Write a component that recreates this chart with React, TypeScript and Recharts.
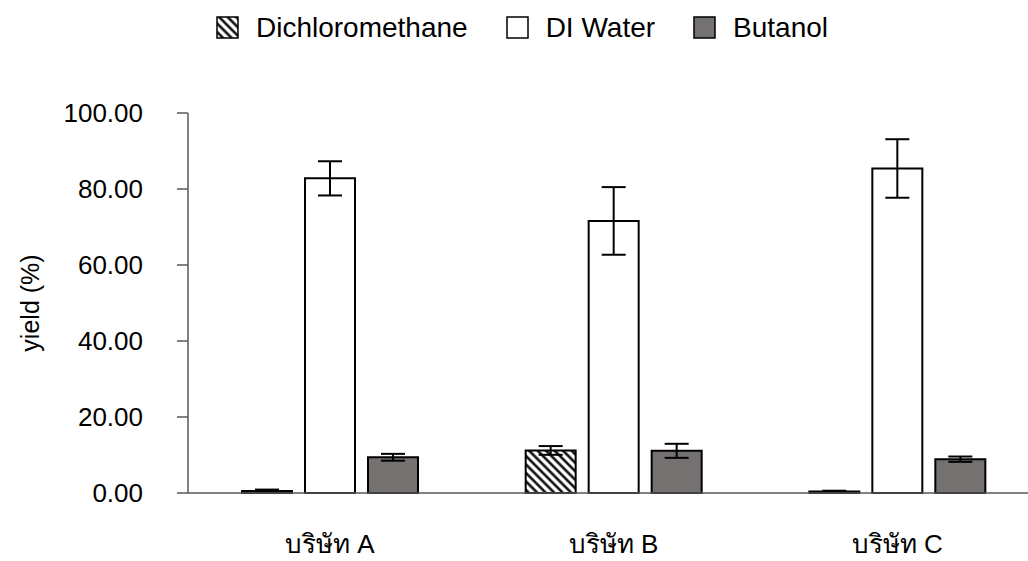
import { Bar, BarChart, ErrorBar, Legend, XAxis, YAxis } from "recharts";

const categories = ["บริษัท A", "บริษัท B", "บริษัท C"];
const dichloromethane = [0.5, 11.2, 0.4];
const dichloromethaneErr = [0.4, 1.15, 0.2];
const diWater = [82.8, 71.6, 85.4];
const diWaterErr = [4.5, 8.9, 7.7];
const butanol = [9.4, 11.1, 8.9];
const butanolErr = [0.9, 1.85, 0.7];
const yTicks = [0, 20, 40, 60, 80, 100];

const seriesNames = ["Dichloromethane", "DI Water", "Butanol"];

const data = categories.map((name, i) => ({
  name,
  dcm: dichloromethane[i],
  dcmErr: dichloromethaneErr[i],
  water: diWater[i],
  waterErr: diWaterErr[i],
  butanol: butanol[i],
  butanolErr: butanolErr[i]
}));

const FONT = '"Liberation Sans", Arial, sans-serif';
const AXIS = "#595959";

function Hatch({ id }: { id: string }) {
  return (
    <pattern id={id} width="6" height="6" patternUnits="userSpaceOnUse" patternTransform="rotate(-45)">
      <rect width="6" height="6" fill="#fff" />
      <line x1="1.5" y1="0" x2="1.5" y2="6" stroke="#000" strokeWidth="2.4" />
    </pattern>
  );
}

function LegendBox() {
  const fills = ["url(#hatchLegend)", "#ffffff", "#767171"];
  return (
    <div style={{ display: "flex", justifyContent: "center", paddingLeft: 16, fontFamily: FONT, fontSize: 28, color: "#000" }}>
      {seriesNames.map((n, i) => (
        <div key={n} style={{ display: "flex", alignItems: "center", marginRight: i < 2 ? 38 : 0 }}>
          <svg width="24" height="24" style={{ marginRight: 16 }}>
            <defs>
              <Hatch id="hatchLegend" />
            </defs>
            <rect x="1" y="1" width="21" height="21" fill={fills[i]} stroke="#000" strokeWidth="1.5" />
          </svg>
          <span>{n}</span>
        </div>
      ))}
    </div>
  );
}

export default function App() {
  return (
    <div style={{ position: "absolute", left: 0, top: 0, width: 1028, height: 561, overflow: "hidden", background: "#fff" }}>
      <BarChart
        width={1040}
        height={561}
        data={data}
        margin={{ top: 113, right: 1, left: 20, bottom: 8 }}
        barSize={50}
        barGap={13}
      >
        <defs>
          <Hatch id="hatchBar" />
        </defs>
        <XAxis
          dataKey="name"
          height={60}
          tickLine={false}
          tickSize={0}
          tickMargin={42}
          axisLine={{ stroke: AXIS, strokeWidth: 1.5 }}
          tick={{ fill: "#000", fontSize: 26, fontFamily: FONT }}
        />
        <YAxis
          width={168}
          domain={[0, 100]}
          ticks={yTicks}
          tickFormatter={(v: number) => v.toFixed(2)}
          tickSize={11}
          tickMargin={34}
          axisLine={{ stroke: AXIS, strokeWidth: 1.5 }}
          tickLine={{ stroke: AXIS, strokeWidth: 1.5 }}
          tick={{ fill: "#000", fontSize: 26, fontFamily: FONT }}
          label={{
            value: "yield (%)",
            angle: -90,
            position: "insideLeft",
            offset: 0,
            dx: 10,
            style: { textAnchor: "middle", fontSize: 25, fontFamily: FONT, fill: "#000" }
          }}
        />
        <Legend
          verticalAlign="middle"
          align="center"
          layout="horizontal"
          wrapperStyle={{ top: 12, left: 0, width: 1028 }}
          content={() => <LegendBox />}
        />
        <Bar dataKey="dcm" name={seriesNames[0]} fill="url(#hatchBar)" stroke="#000" strokeWidth={2} isAnimationActive={false}>
          <ErrorBar dataKey="dcmErr" width={12} stroke="#000" strokeWidth={2} />
        </Bar>
        <Bar dataKey="water" name={seriesNames[1]} fill="#ffffff" stroke="#000" strokeWidth={2} isAnimationActive={false}>
          <ErrorBar dataKey="waterErr" width={12} stroke="#000" strokeWidth={2} />
        </Bar>
        <Bar dataKey="butanol" name={seriesNames[2]} fill="#767171" stroke="#000" strokeWidth={2} isAnimationActive={false}>
          <ErrorBar dataKey="butanolErr" width={12} stroke="#000" strokeWidth={2} />
        </Bar>
      </BarChart>
    </div>
  );
}
